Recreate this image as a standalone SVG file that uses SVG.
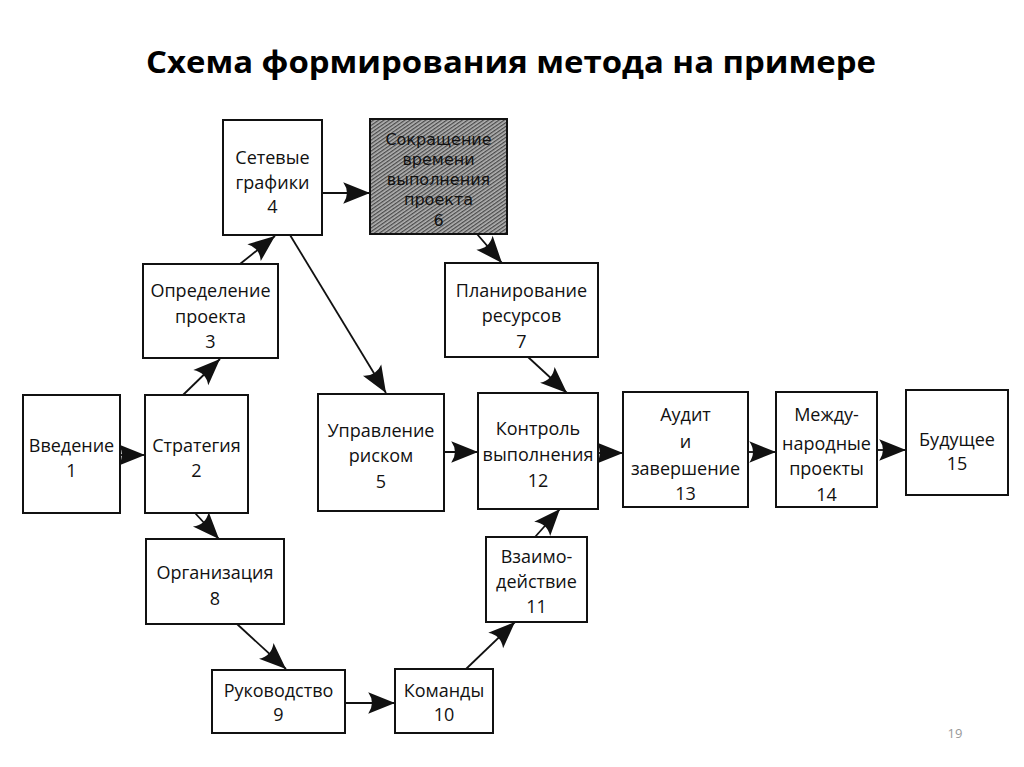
<svg xmlns="http://www.w3.org/2000/svg" width="1024" height="767" viewBox="0 0 1024 767">
<style>
.box{fill:#fff;stroke:#111;stroke-width:2}
.t{font-family:"Open Sans","Noto Sans","DejaVu Sans",sans-serif;font-size:18px;font-weight:500;fill:#111;text-anchor:middle}
.t6{font-family:"DejaVu Sans","Open Sans",sans-serif;font-size:16px;font-weight:normal}
.title{font-family:"Open Sans","Noto Sans","DejaVu Sans",sans-serif;font-size:30px;font-weight:bold;fill:#000;text-anchor:middle}
.c{stroke:#111;stroke-width:1.8;fill:none;marker-end:url(#ah)}
</style>
<defs>
<marker id="ah" markerUnits="userSpaceOnUse" markerWidth="30" markerHeight="24" viewBox="-26 -11 28 22" refX="0" refY="0" orient="auto">
<path d="M0,0 L-25,-10 Q-18,0 -25,10 Z" fill="#111"/>
</marker>
<pattern id="hatch" patternUnits="userSpaceOnUse" width="3" height="3" patternTransform="rotate(-35)">
<rect width="3" height="3" fill="#b4b4b4"/>
<rect width="3" height="1.3" fill="#4a4a4a"/>
</pattern>
</defs>
<text class="title" x="511" y="73" textLength="730" lengthAdjust="spacingAndGlyphs">Схема формирования метода на примере</text>
<g id="connectors">
<line class="c" x1="120" y1="455" x2="145" y2="455"/>
<line class="c" x1="183" y1="395" x2="220" y2="359"/>
<line class="c" x1="240" y1="264" x2="275" y2="236"/>
<line class="c" x1="322" y1="193" x2="370" y2="193"/>
<line class="c" x1="290" y1="235" x2="386" y2="393"/>
<line class="c" x1="477" y1="234" x2="502" y2="263"/>
<line class="c" x1="528" y1="357" x2="567" y2="393"/>
<line class="c" x1="444" y1="452" x2="478" y2="452"/>
<line class="c" x1="598" y1="453" x2="623" y2="453"/>
<line class="c" x1="748" y1="452" x2="776" y2="452"/>
<line class="c" x1="877" y1="450" x2="906" y2="450"/>
<line class="c" x1="195" y1="513" x2="219" y2="539"/>
<line class="c" x1="237" y1="624" x2="286" y2="669"/>
<line class="c" x1="345" y1="703" x2="395" y2="703"/>
<line class="c" x1="466" y1="669" x2="515" y2="622"/>
<line class="c" x1="535" y1="537" x2="560" y2="509"/>
</g>
<g id="n1"><rect class="box" x="23" y="395" width="97" height="118"/>
<text class="t" x="71.5" y="452">Введение</text><text class="t" x="71.5" y="477">1</text></g>
<g id="n2"><rect class="box" x="145" y="395" width="103" height="118"/>
<text class="t" x="196.5" y="452">Стратегия</text><text class="t" x="196.5" y="477">2</text></g>
<g id="n3"><rect class="box" x="143" y="264" width="135" height="94"/>
<text class="t" x="210.5" y="297">Определение</text><text class="t" x="210.5" y="323">проекта</text><text class="t" x="210.5" y="348">3</text></g>
<g id="n4"><rect class="box" x="223" y="120" width="99" height="115"/>
<text class="t" x="272.5" y="164">Сетевые</text><text class="t" x="272.5" y="189">графики</text><text class="t" x="272.5" y="213">4</text></g>
<g id="n6"><rect x="370" y="119" width="137" height="115" fill="url(#hatch)" stroke="#111" stroke-width="2"/>
<text class="t t6" x="438.5" y="145">Сокращение</text><text class="t t6" x="438.5" y="165">времени</text><text class="t t6" x="438.5" y="185">выполнения</text><text class="t t6" x="438.5" y="205">проекта</text><text class="t t6" x="438.5" y="226">6</text></g>
<g id="n7"><rect class="box" x="445" y="263" width="153" height="94"/>
<text class="t" x="521.5" y="297">Планирование</text><text class="t" x="521.5" y="322">ресурсов</text><text class="t" x="521.5" y="348">7</text></g>
<g id="n5"><rect class="box" x="318" y="394" width="126" height="117"/>
<text class="t" x="381" y="437">Управление</text><text class="t" x="381" y="462">риском</text><text class="t" x="381" y="488">5</text></g>
<g id="n12"><rect class="box" x="478" y="393" width="120" height="116"/>
<text class="t" x="538" y="435">Контроль</text><text class="t" x="538" y="461">выполнения</text><text class="t" x="538" y="487">12</text></g>
<g id="n13"><rect class="box" x="623" y="392" width="125" height="115"/>
<text class="t" x="685.5" y="421">Аудит</text><text class="t" x="685.5" y="448">и</text><text class="t" x="685.5" y="475">завершение</text><text class="t" x="685.5" y="500">13</text></g>
<g id="n14"><rect class="box" x="776" y="392" width="101" height="115"/>
<text class="t" x="826.5" y="421">Между-</text><text class="t" x="826.5" y="450">народные</text><text class="t" x="826.5" y="475">проекты</text><text class="t" x="826.5" y="501">14</text></g>
<g id="n15"><rect class="box" x="906" y="390" width="102" height="105"/>
<text class="t" x="957" y="446">Будущее</text><text class="t" x="957" y="470">15</text></g>
<g id="n8"><rect class="box" x="146" y="539" width="138" height="85"/>
<text class="t" x="215" y="579">Организация</text><text class="t" x="215" y="605">8</text></g>
<g id="n9"><rect class="box" x="212" y="670" width="133" height="63"/>
<text class="t" x="278.5" y="697">Руководство</text><text class="t" x="278.5" y="721">9</text></g>
<g id="n10"><rect class="box" x="395" y="669" width="98" height="64"/>
<text class="t" x="444" y="697">Команды</text><text class="t" x="444" y="721">10</text></g>
<g id="n11"><rect class="box" x="486" y="537" width="101" height="85"/>
<text class="t" x="536.5" y="563">Взаимо-</text><text class="t" x="536.5" y="588">действие</text><text class="t" x="536.5" y="613">11</text></g>
<text x="955" y="738" font-family="'Open Sans','Noto Sans',sans-serif" font-size="13" fill="#999" text-anchor="middle">19</text>
</svg>
